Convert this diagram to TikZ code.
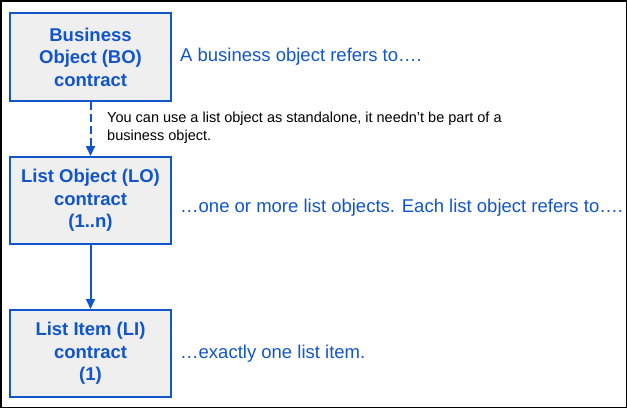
\documentclass[tikz,border=0pt]{standalone}
\usepackage{fontspec}
\setmainfont{Liberation Sans}
\usetikzlibrary{arrows.meta}
\definecolor{gblue}{HTML}{1155CC}
\definecolor{gfill}{HTML}{EFEFEF}
\begin{document}
\begin{tikzpicture}[x=1pt,y=-1pt,
  box/.style={draw=gblue, line width=2pt, fill=gfill, minimum width=161pt, minimum height=87pt, inner sep=0pt, align=center, text=gblue, font=\fontsize{18.5}{22.5}\selectfont\bfseries},
  side/.style={anchor=west, inner sep=0pt, text=gblue, font=\fontsize{18.5}{22.5}\selectfont},
  note/.style={anchor=north west, inner sep=0pt, align=left, font=\fontsize{14.5}{17.5}\selectfont},
  conn/.style={draw=gblue, line width=2pt, -{Triangle[length=10pt,width=9pt]}}]
\useasboundingbox (0,0) rectangle (627,408);
\draw[black, line width=1.5pt] (0.75,0.75) rectangle (626.25,407.25);
\node[box, minimum height=88pt] (bo) at (90.5,57) {Business\\Object (BO)\\contract};
\node[box] (lo) at (90.5,200.5) {List Object (LO)\\contract\\(1..n)};
\node[box] (li) at (90.5,353.5) {List Item (LI)\\contract\\(1)};
\node[side] (t1) at (180,57) {A business object refers to….};
\node[side] (t2) at (180,207.5) {…one or more list objects. Each list object refers to….};
\node[side] (t3) at (180,354) {…exactly one list item.};
\node[note] (n1) at (107,112) {You can use a list object as standalone, it needn’t be part of a\\business object.};
\draw[conn, dash pattern=on 8pt off 4pt] (bo.south) -- (lo.north);
\draw[conn] (lo.south) -- (li.north);
\end{tikzpicture}
\end{document}
